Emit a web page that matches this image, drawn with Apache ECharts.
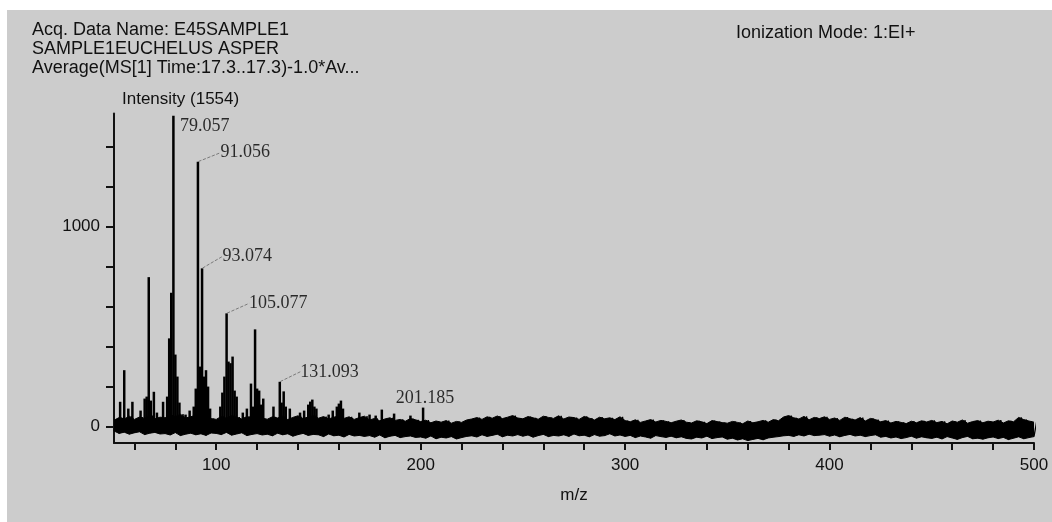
<!DOCTYPE html>
<html lang="en">
<head>
    <meta charset="utf-8" />
    <title>E45SAMPLE1 mass spectrum</title>
    <script src="https://cdn.jsdelivr.net/npm/echarts@6/dist/echarts.min.js"></script>
    <style>
        html, body { margin: 0; padding: 0; background: #fff; }
        #main { position: absolute; left: 7px; top: 10px; width: 1045px; height: 512px; background: #cccccc; }
    </style>
</head>
<body>
    <div id="main"></div>
    <script type="text/javascript">
        // header texts
        var headerLines = ['Acq. Data Name: E45SAMPLE1', 'SAMPLE1EUCHELUS ASPER', 'Average(MS[1] Time:17.3..17.3)-1.0*Av...'];
        var modeText = 'Ionization Mode: 1:EI+';
        var yName = 'Intensity (1554)';
        var xName = 'm/z';

        // axis ticks / labels
        var xTicks = [60, 80, 100, 120, 140, 160, 180, 200, 220, 240, 260, 280, 300, 320, 340, 360, 380, 400, 420, 440, 460, 480, 500];
        var xLabels = [100, 200, 300, 400, 500];
        var yTicks = [0, 200, 400, 600, 800, 1000, 1200, 1400];
        var yLabels = [0, 1000];

        // peak sticks
        var peakMz = [53, 55, 57, 59, 63, 65, 66, 67, 68, 69.5, 71, 74, 76, 77, 78, 79.057, 80, 81, 82, 85,
            87, 89, 90, 91.056, 92, 93.074, 94, 95, 96, 97, 102, 103, 104, 105.077, 106, 107, 108, 109, 110, 113,
            115, 117, 118, 119, 120, 121, 122, 123, 128, 131.093, 132, 133, 134, 136, 141, 143, 145, 146, 147, 148,
            149, 155, 157, 159, 160, 161, 162, 170, 175, 178, 181, 187, 195, 201.185];
        var peakInt = [124, 282, 90, 124, 80, 140, 150, 747, 130, 174, 70, 124, 150, 441, 669, 1554, 360, 250, 120, 60,
            80, 100, 190, 1324, 300, 791, 250, 282, 200, 90, 100, 170, 250, 566, 325, 317, 350, 180, 150, 70,
            90, 215, 100, 486, 190, 180, 110, 140, 100, 224, 120, 176, 100, 90, 70, 80, 110, 125, 135, 100,
            90, 60, 80, 100, 115, 130, 90, 70, 60, 55, 85, 65, 55, 95];

        // labelled peaks
        var annotMz = [79.057, 91.056, 93.074, 105.077, 131.093, 201.185];
        var annotInt = [1554, 1324, 791, 566, 224, 95];

        // noise band, upper and lower edge every 2.5 m/z from 50 to 500
        var noiseStart = 50;
        var noiseStep = 2.5;
        var noiseHi = [
            32, 45, 38, 52, 36, 48, 41, 55, 39, 47,
            44, 58, 50, 62, 43, 49, 57, 46, 53, 40,
            36, 51, 42, 55, 47, 38, 50, 44, 56, 41,
            37, 49, 43, 52, 35, 46, 54, 40, 48, 55,
            42, 50, 38, 47, 53, 41, 49, 36, 45, 52,
            33, 41, 29, 38, 44, 31, 36, 27, 40, 34,
            25, 32, 19, 28, 22, 30, 17, 26, 21, 33,
            38, 45, 36, 49, 42, 53, 40, 47, 55, 43,
            39, 50, 44, 37, 52, 46, 41, 54, 38, 48,
            45, 36, 51, 42, 33, 47, 39, 44, 35, 49,
            30, 24, 34, 21, 28, 35, 23, 31, 26, 19,
            27, 33, 22, 18, 29, 24, 15, 30, 25, 20,
            17, 26, 21, 14, 28, 19, 24, 31, 22, 35,
            29, 48, 55, 44, 38, 51, 34, 46, 40, 49,
            36, 43, 31, 47, 39, 33, 45, 28, 41, 35,
            24, 30, 18, 26, 21, 15, 27, 19, 29, 23,
            31, 20, 26, 14, 28, 22, 33, 17, 25, 30,
            19, 27, 23, 32, 18, 29, 24, 46, 35, 28,
            22];
        var noiseLo = [
            -22, -34, -28, -38, -31, -26, -40, -33, -29, -37,
            -35, -42, -30, -45, -38, -33, -41, -36, -44, -32,
            -34, -40, -29, -43, -37, -31, -45, -39, -35, -42,
            -38, -46, -33, -41, -36, -48, -40, -34, -44, -39,
            -41, -50, -37, -46, -43, -52, -39, -47, -44, -49,
            -45, -53, -42, -56, -48, -44, -55, -50, -47, -54,
            -52, -58, -47, -61, -53, -57, -50, -62, -55, -49,
            -46, -52, -41, -49, -44, -38, -51, -43, -47, -40,
            -48, -42, -53, -45, -39, -50, -44, -47, -41, -49,
            -37, -46, -43, -51, -40, -48, -45, -36, -47, -42,
            -49, -44, -55, -47, -52, -58, -45, -50, -54, -48,
            -56, -51, -59, -62, -53, -57, -48, -60, -55, -52,
            -63, -58, -67, -61, -70, -64, -59, -66, -57, -53,
            -50, -46, -44, -49, -41, -47, -38, -45, -43, -40,
            -48, -42, -51, -44, -39, -47, -43, -50, -45, -41,
            -53, -49, -57, -52, -60, -55, -48, -58, -51, -56,
            -59, -53, -62, -50, -57, -64, -55, -49, -61, -58,
            -63, -56, -52, -60, -54, -65, -58, -51, -61, -55,
            -50];

        var ink = '#111';
        var sans = 'Liberation Sans';

        // trace goes up and down between the two edges; the edges are also filled
        var noiseTrace = [];
        var upper = [];
        var lower = [];
        for (var i = 0; i < noiseHi.length; i++) {
            var x = noiseStart + i * noiseStep;
            noiseTrace.push([x, noiseLo[i]]);
            noiseTrace.push([x + noiseStep / 2, noiseHi[i]]);
            upper.push([x, noiseHi[i]]);
            lower.push([x, noiseLo[i]]);
        }

        var peaks = peakMz.map(function (m, i) { return [m, peakInt[i]]; });

        // label offsets in pixels (dx, dy)
        var labelOffsets = [[6, 11], [22, -9], [20, -12], [22, -10], [20, -10], [2, 0]];
        var annot = annotMz.map(function (m, i) {
            var item = { value: [m, annotInt[i]] };
            if (i === 0) {
                item.labelLine = { show: false };
            }
            if (i === annotMz.length - 1) {
                item.label = { position: 'top', distance: 0 };
                item.labelLine = { show: false };
            }
            return item;
        });

        // the two fills overlap a little so no seam shows at zero
        var bandSeries = function (name, data, origin) {
            return {
                name: name,
                type: 'line',
                data: data,
                showSymbol: false,
                silent: true,
                lineStyle: { color: '#000', width: 1 },
                areaStyle: { color: '#000', opacity: 1, origin: origin }
            };
        };

        var myChart = echarts.init(document.getElementById('main'));
        var option = {
            animation: false,
            title: [
                {
                    text: headerLines.join('\n'),
                    left: 25, top: 11, padding: 0,
                    textStyle: { fontFamily: sans, fontSize: 18, fontWeight: 'normal', color: ink, lineHeight: 19 }
                },
                {
                    text: modeText,
                    left: 729, top: 14, padding: 0,
                    textStyle: { fontFamily: sans, fontSize: 18, fontWeight: 'normal', color: ink, lineHeight: 19 }
                }
            ],
            grid: { left: 107, right: 18, top: 103.5, bottom: 79 },
            xAxis: {
                type: 'value',
                min: 50,
                max: 500,
                name: xName,
                nameLocation: 'middle',
                nameGap: 44,
                nameTextStyle: { fontFamily: sans, fontSize: 17, color: ink },
                axisLine: { onZero: false, lineStyle: { color: '#111', width: 2 } },
                axisTick: { customValues: xTicks, length: 7, lineStyle: { color: '#111', width: 2 } },
                axisLabel: { customValues: xLabels, margin: 14, fontFamily: sans, fontSize: 17, color: ink },
                splitLine: { show: false }
            },
            yAxis: {
                type: 'value',
                min: -82,
                max: 1565,
                name: yName,
                nameLocation: 'end',
                nameGap: 6,
                nameTextStyle: { align: 'left', padding: [0, 0, 0, 8], fontFamily: sans, fontSize: 17, color: ink },
                axisLine: { show: true, lineStyle: { color: '#111', width: 2 } },
                axisTick: { show: true, customValues: yTicks, length: 8, lineStyle: { color: '#111', width: 2 } },
                axisLabel: {
                    customValues: yLabels, margin: 14, fontFamily: sans, fontSize: 17, color: ink,
                    formatter: function (v) { return String(v); }
                },
                splitLine: { show: false }
            },
            series: [
                bandSeries('bandUpper', upper, -15),
                bandSeries('bandLower', lower, 10),
                {
                    name: 'noise',
                    type: 'line',
                    data: noiseTrace,
                    showSymbol: false,
                    silent: true,
                    lineStyle: { color: '#000', width: 1.3 }
                },
                {
                    name: 'peaks',
                    type: 'bar',
                    data: peaks,
                    barWidth: 2.5,
                    silent: true,
                    itemStyle: { color: '#000' }
                },
                {
                    name: 'labels',
                    type: 'scatter',
                    data: annot,
                    symbolSize: 1,
                    silent: true,
                    itemStyle: { color: 'rgba(0,0,0,0)' },
                    label: {
                        show: true,
                        position: 'right',
                        distance: 0,
                        fontFamily: 'Liberation Serif',
                        fontSize: 18,
                        color: '#000',
                        formatter: function (p) { return p.value[0].toFixed(3); }
                    },
                    labelLine: { show: true, lineStyle: { color: '#666', width: 0.8, type: 'dashed' } },
                    labelLayout: function (p) {
                        var o = labelOffsets[p.dataIndex];
                        return { dx: o[0], dy: o[1] };
                    }
                }
            ]
        };
        myChart.setOption(option);

        window.onresize = function () {
            myChart.resize();
        };
    </script>
</body>
</html>
